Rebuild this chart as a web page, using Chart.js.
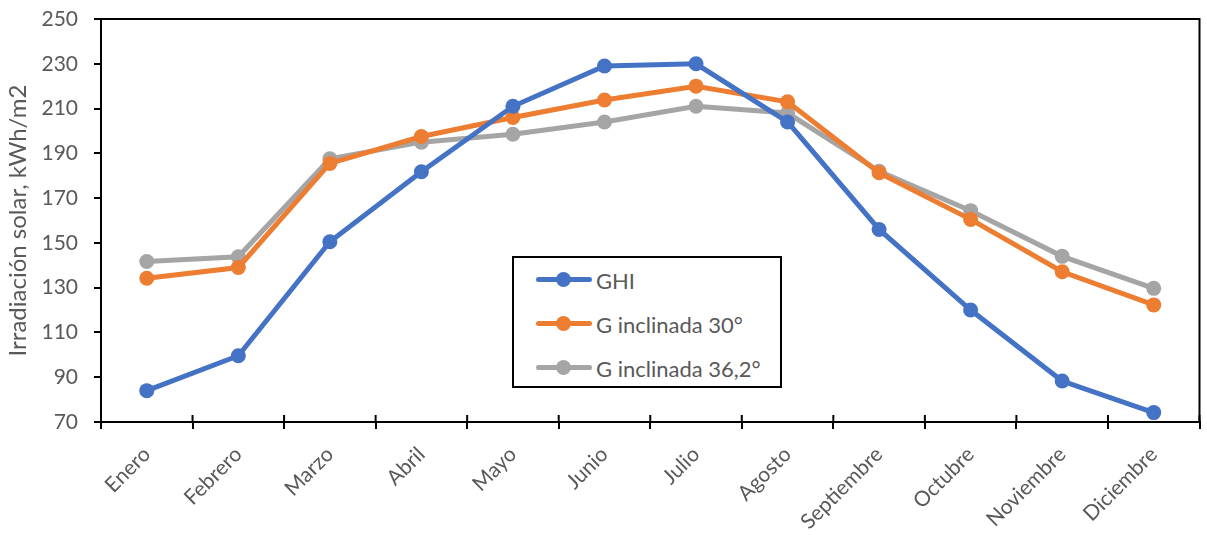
<!DOCTYPE html>
<html lang="es">
<head>
<meta charset="utf-8">
<script src="https://cdn.jsdelivr.net/npm/chart.js@4.4.1/dist/chart.umd.min.js"></script>
<style>
    html, body { margin: 0; padding: 0; background: #fff; }
    #wrap { position: relative; width: 1207px; height: 535px; }
    #legend {
        position: absolute; left: 512px; top: 256px; width: 266px; height: 128px;
        border: 2px solid #000; background: #fff; box-sizing: content-box;
        font-family: Lato, "Open Sans", sans-serif; font-size: 22px; color: #595959;
    }
    .item { position: absolute; left: 22px; height: 24px; display: flex; align-items: center; }
    .sym { position: relative; width: 56px; height: 24px; margin-right: 4px; }
    .sym .ln { position: absolute; left: 0; right: 0; top: 9px; height: 5px; border-radius: 3px; }
    .sym .dot { position: absolute; left: 20px; top: 4px; width: 15px; height: 15px; border-radius: 50%; }
</style>
</head>
<body>
<div id="wrap">
    <canvas id="chart" width="1207" height="535"></canvas>
    <div id="legend"></div>
</div>
<script>
const months = ['Enero', 'Febrero', 'Marzo', 'Abril', 'Mayo', 'Junio', 'Julio', 'Agosto', 'Septiembre', 'Octubre', 'Noviembre', 'Diciembre'];
const ghi = [84, 99.6, 150.5, 181.8, 211, 229, 230, 204, 156, 120, 88.3, 74.2];
const incl30 = [134.2, 139, 185.5, 197.5, 206, 213.8, 220, 213, 181.3, 160.5, 137.1, 122.3];
const incl362 = [141.7, 143.8, 187.6, 195, 198.5, 204, 211, 208, 182, 164.4, 144, 129.7];
const yTicks = [70, 90, 110, 130, 150, 170, 190, 210, 230, 250];

const seriesNames = ['GHI', 'G inclinada 30°', 'G inclinada 36,2°'];
const seriesColors = ['#4472C4', '#ED7D31', '#A5A5A5'];

const FONT = 'Lato, "Open Sans", sans-serif';
const GREY_TEXT = '#595959';

// Frame round the plot area (top and right sides)
const framePlugin = {
    id: 'frame',
    afterDraw(chart) {
        const { ctx, chartArea: a } = chart;
        ctx.save();
        ctx.strokeStyle = '#000';
        ctx.lineWidth = 2;
        ctx.beginPath();
        ctx.moveTo(a.left, a.top);
        ctx.lineTo(a.right, a.top);
        ctx.lineTo(a.right, a.bottom);
        ctx.stroke();
        // x ticks also cross into the plot a bit
        const xs = chart.scales.x;
        for (let i = 0; i <= months.length; i++) {
            const x = xs.left + (xs.width / months.length) * i;
            ctx.beginPath();
            ctx.moveTo(x, a.bottom);
            ctx.lineTo(x, a.bottom - 7);
            ctx.stroke();
        }
        ctx.restore();
    }
};

const datasets = [ghi, incl30, incl362].map((data, i) => ({
    label: seriesNames[i],
    data,
    borderColor: seriesColors[i],
    backgroundColor: seriesColors[i],
    borderWidth: 5,
    pointRadius: 7.5,
    pointHoverRadius: 7.5,
    pointBorderWidth: 0,
    tension: 0
}));

const ctx = document.getElementById('chart').getContext('2d');
const myChart = new Chart(ctx, {
    type: 'line',
    data: { labels: months, datasets },
    options: {
        responsive: false,
        animation: false,
        events: [],
        layout: { padding: { top: 19, right: 1, left: 0, bottom: 0 } },
        plugins: { legend: { display: false }, tooltip: { enabled: false } },
        scales: {
            x: {
                offset: true,
                border: { display: true, color: '#000', width: 2 },
                grid: { display: true, drawOnChartArea: false, offset: true, color: '#000', lineWidth: 2, tickLength: 7 },
                ticks: {
                    autoSkip: false, minRotation: 45, maxRotation: 45, padding: 13,
                    color: GREY_TEXT, font: { family: FONT, size: 21 }
                },
                afterFit(scale) { scale.height = 113; scale.paddingLeft = 0; scale.paddingRight = 0; }
            },
            y: {
                min: 70, max: 250,
                border: { display: true, color: '#000', width: 2 },
                grid: { display: true, drawOnChartArea: false, color: '#000', lineWidth: 2, tickLength: 7 },
                afterBuildTicks(scale) { scale.ticks = yTicks.map(v => ({ value: v })); },
                ticks: { padding: 16, color: GREY_TEXT, font: { family: FONT, size: 21 } },
                title: {
                    display: true, text: 'Irradiación solar, kWh/m2', color: GREY_TEXT,
                    font: { family: FONT, size: 24, weight: 'normal' }, padding: { top: 4, bottom: 0 }
                },
                afterFit(scale) { scale.width = 101; scale.paddingTop = 0; scale.paddingBottom = 0; }
            }
        }
    },
    plugins: [framePlugin]
});

// Legend box built from the chart's datasets
const legendEl = document.getElementById('legend');
const rowTops = [10, 54, 98];
legendEl.innerHTML = myChart.data.datasets.map((ds, i) => `
    <div class="item" style="top:${rowTops[i]}px">
        <div class="sym">
            <div class="ln" style="background:${ds.borderColor}"></div>
            <div class="dot" style="background:${ds.borderColor}"></div>
        </div>
        <span>${ds.label}</span>
    </div>
`).join('');
</script>
</body>
</html>
